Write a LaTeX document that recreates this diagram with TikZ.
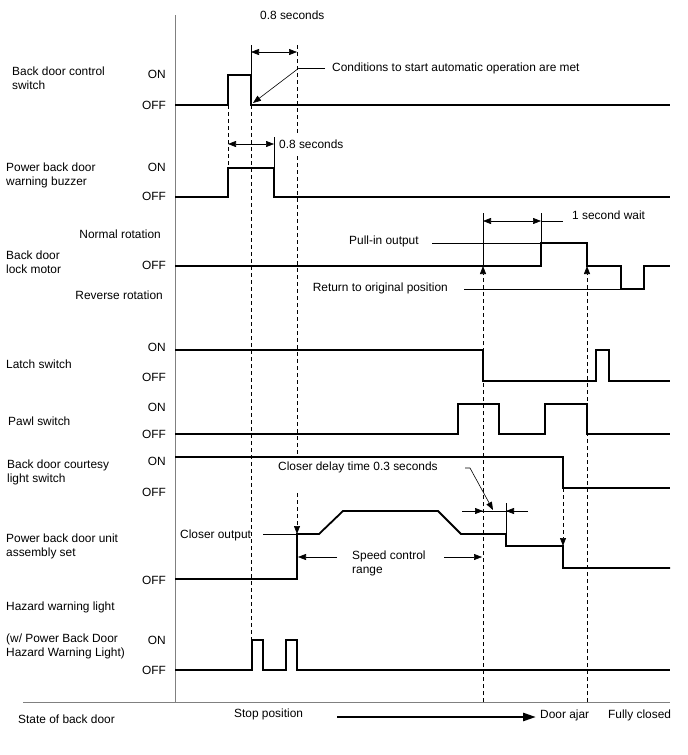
\documentclass[tikz,border=0pt]{standalone}
\usepackage{fontspec}
\setmainfont{Liberation Sans}
\usetikzlibrary{arrows.meta}
\begin{document}
\begin{tikzpicture}[x=1pt,y=-1pt,
  sig/.style={line width=1.8pt, line join=miter},
  thinl/.style={line width=0.6pt},
  dsh/.style={line width=0.7pt, dash pattern=on 4pt off 3pt},
  tip/.style={-{Triangle[length=8pt,width=6pt]}},
  dtip/.style={{Triangle[length=8pt,width=6pt]}-{Triangle[length=8pt,width=6pt]}},
  lbl/.style={font=\fontsize{11.9}{14}\selectfont, inner sep=0pt, anchor=west, align=left},
  st/.style={font=\fontsize{11.9}{14}\selectfont, inner sep=0pt, anchor=east},
  tx/.style={font=\fontsize{11.9}{14}\selectfont, inner sep=0pt, anchor=west, align=left},
  axis/.style={draw=black!50, line width=0.8pt}
]
\useasboundingbox (0,0) rectangle (688,755);

% axes
\draw[axis] (175,15) -- (175,702);
\draw[axis] (23,702) -- (670,702);

% row labels
\node[lbl] (l1) at (12,78.5) {Back door control\\switch};
\node[st] (on1) at (166,74) {ON};
\node[st] (off1) at (166,105) {OFF};
\node[lbl] (l2) at (6,175) {Power back door\\warning buzzer};
\node[st] (on2) at (166,167) {ON};
\node[st] (off2) at (166,196) {OFF};
\node[st] (nr) at (161,234) {Normal rotation};
\node[lbl] (l3) at (6,262) {Back door\\lock motor};
\node[st] (off3) at (166,265) {OFF};
\node[st] (rr) at (163,295) {Reverse rotation};
\node[lbl] (l4) at (6,364) {Latch switch};
\node[st] (on4) at (166,347) {ON};
\node[st] (off4) at (166,377) {OFF};
\node[lbl] (l5) at (8,421) {Pawl switch};
\node[st] (on5) at (166,407) {ON};
\node[st] (off5) at (166,434) {OFF};
\node[lbl] (l6) at (7,472) {Back door courtesy\\light switch};
\node[st] (on6) at (166,461) {ON};
\node[st] (off6) at (166,492) {OFF};
\node[lbl] (l7) at (6,546) {Power back door unit\\assembly set};
\node[st] (off7) at (166,580) {OFF};
\node[lbl] (l8) at (6,607) {Hazard warning light};
\node[lbl] (l9) at (6,646) {(w/ Power Back Door\\Hazard Warning Light)};
\node[st] (on9) at (166,640) {ON};
\node[st] (off9) at (166,670) {OFF};
\node[lbl] (l10) at (18,719) {State of back door};

% signals
\draw[sig] (175,105) -- (228,105) -- (228,75) -- (251,75) -- (251,105) -- (670,105);
\draw[sig] (175,197) -- (228,197) -- (228,168) -- (274,168) -- (274,197) -- (670,197);
\draw[sig] (175,266) -- (541,266) -- (541,243) -- (587,243) -- (587,266) -- (621,266) -- (621,289) -- (644,289) -- (644,266) -- (670,266);
\draw[sig] (175,350) -- (483,350) -- (483,381) -- (596,381) -- (596,350) -- (609,350) -- (609,381) -- (670,381);
\draw[sig] (175,434) -- (458,434) -- (458,404) -- (499,404) -- (499,434) -- (545,434) -- (545,404) -- (587,404) -- (587,434) -- (670,434);
\draw[sig] (175,457) -- (563,457) -- (563,488) -- (670,488);
\draw[sig] (175,579) -- (297,579) -- (297,534) -- (319,534) -- (343,511) -- (438,511) -- (461,534) -- (506,534) -- (506,546) -- (563,546) -- (563,568) -- (670,568);
\draw[sig] (175,670) -- (252,670) -- (252,640) -- (263,640) -- (263,670) -- (286,670) -- (286,640) -- (297,640) -- (297,670) -- (670,670);

% dashed guide lines
\draw[dsh] (228,105) -- (228,168);
\draw[dsh] (251,105) -- (251,640);
\draw[dsh] (297,45) -- (297,134);
\draw[dsh] (297,156) -- (297,457);
\draw[dsh, tip] (297,493) -- (297,534);
\draw[dsh, tip] (483,702) -- (483,266);
\draw[dsh, tip] (587,702) -- (587,266);
\draw[dsh, tip] (563,488) -- (563,546);

% 0.8 seconds (top)
\draw[thinl] (251,45) -- (251,75);
\draw[thinl, dtip] (251,52) -- (297,52);
\node[tx] (t08a) at (260,15) {0.8 seconds};
% conditions
\node[tx] (cond) at (332,68) {Conditions to start automatic operation are met};
\coordinate (ck) at (299,68);
\draw[thinl] (cond.west) ++(-7,0) -- (ck);
\draw[thinl, tip] (ck) -- (253,103);
% 0.8 seconds (buzzer)
\draw[thinl] (274,137) -- (274,168);
\draw[thinl, dtip] (228,144) -- (274,144);
\node[tx] (t08b) at (279,144) {0.8 seconds};

% lock motor annotations
\draw[thinl] (483,213) -- (483,266);
\draw[thinl] (541,213) -- (541,243);
\draw[thinl, dtip] (483,221) -- (541,221);
\draw[thinl] (541,221) -- (563,221);
\node[tx] (w1) at (572,215) {1 second wait};
\node[tx] (pull) at (349,241) {Pull-in output};
\draw[thinl] (432,243) -- (541,243);
\node[st] (ret) at (448,288) {Return to original position};
\draw[thinl] (464,289) -- (621,289);

% power back door unit annotations
\node[tx] (co) at (180,535) {Closer output};
\draw[thinl] (263,534) -- (297,534);
\node[tx] (scr) at (352,563) {Speed control\\range};
\draw[thinl, tip] (337,557) -- (298,557);
\draw[thinl, tip] (444,557) -- (482,557);
\node[tx] (cd) at (278,467) {Closer delay time 0.3 seconds};
\draw[thinl, tip] (465,468) -- (470,468) -- (493,510);
\draw[thinl] (462,511) -- (528,511);
\draw[thinl, tip] (462,511) -- (483,511);
\draw[thinl, tip] (528,511) -- (506,511);
\draw[thinl] (506,503) -- (506,534);

% state of back door
\node[tx] (sp) at (234,714) {Stop position};
\node[tx] (da) at (540,715) {Door ajar};
\node[tx] (fc) at (608,715) {Fully closed};
\coordinate (arrs) at (337,717);
\draw[line width=2.5pt, -{Triangle[length=13pt,width=8pt]}] (arrs) -- ([xshift=-4pt]da.west |- arrs);
\end{tikzpicture}
\end{document}
